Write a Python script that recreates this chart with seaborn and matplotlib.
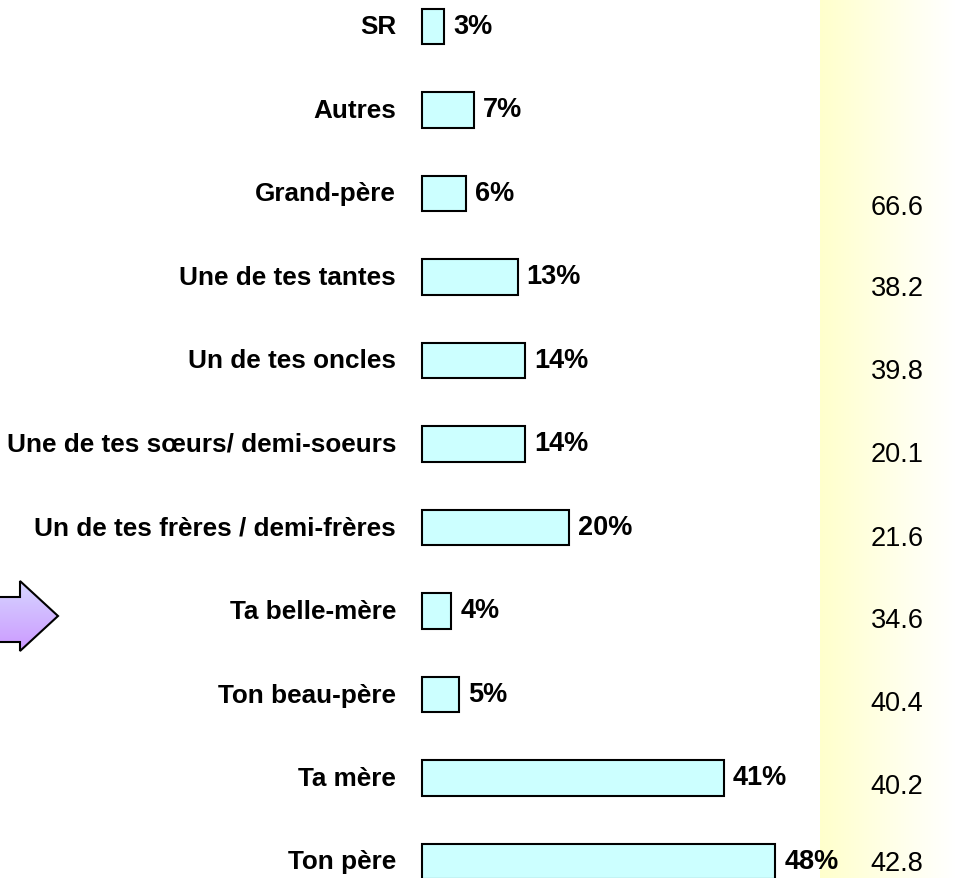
import numpy as np
import pandas as pd
import seaborn as sns
import matplotlib.pyplot as plt
from matplotlib.patches import Polygon
from matplotlib.colors import LinearSegmentedColormap

# Data
categories = ['SR', 'Autres', 'Grand-père', 'Une de tes tantes', 'Un de tes oncles',
              'Une de tes sœurs/ demi-soeurs', 'Un de tes frères / demi-frères',
              'Ta belle-mère', 'Ton beau-père', 'Ta mère', 'Ton père']
percents = [3, 7, 6, 13, 14, 14, 20, 4, 5, 41, 48]
side_values = [None, None, 66.6, 38.2, 39.8, 20.1, 21.6, 34.6, 40.4, 40.2, 42.8]

df = pd.DataFrame({'who': categories, 'pct': percents})

sns.set_theme(style='white')
plt.rcParams['font.family'] = ['Liberation Sans', 'DejaVu Sans']

W, H = 955, 879
fig = plt.figure(figsize=(W / 100, H / 100), dpi=100)
ax = fig.add_axes([0, 0, 1, 1])

# pixel geometry of the original layout
x0, px_per_pct = 422, 7.36
y0, px_per_row = 27.5, 83.5

sns.barplot(data=df, x='pct', y='who', order=categories, orient='h', ax=ax,
            color='#CCFFFF', edgecolor='black', linewidth=1.5, width=0.42,
            saturation=1, zorder=3)
for p in ax.patches:
    p.set_facecolor('#CCFFFF')

ax.set_xlim(-x0 / px_per_pct, (W - x0) / px_per_pct)
ax.set_ylim((H - y0) / px_per_row, -y0 / px_per_row)
ax.axis('off')

# yellow gradient column on the right
band_left = (820 - x0) / px_per_pct
yellow = LinearSegmentedColormap.from_list('yl', ['#FFFFCC', '#FFFFE6', '#FFFFFF'])
grad = np.linspace(0, 1, 256).reshape(1, -1)
ylo, yhi = ax.get_ylim()
ax.imshow(grad, cmap=yellow, aspect='auto', extent=[band_left, ax.get_xlim()[1], ylo, yhi],
          zorder=0)
ax.set_ylim(ylo, yhi)

# vertical nudge of the right-hand numbers (they sit a bit below each bar)
side_shift = [0.16, 0.16, 0.16, 0.13, 0.12, 0.12, 0.12, 0.11, 0.1, 0.09, 0.02]

# labels
for i, (name, v) in enumerate(zip(categories, percents)):
    ax.text(-26 / px_per_pct, i, name, ha='right', va='center', fontsize=18.8,
            fontweight='bold', color='black', zorder=5)
    ax.text(v + 9 / px_per_pct, i - 0.01, f'{v}%', ha='left', va='center', fontsize=19.5,
            fontweight='bold', color='black', zorder=5)
    if side_values[i] is not None:
        ax.text((897 - x0) / px_per_pct, i + side_shift[i], f'{side_values[i]:.1f}',
                ha='center', va='center', fontsize=19.5, color='black', zorder=5)

# purple arrow pointing at "Ta belle-mère"
deco = fig.add_axes([0, 0, 1, 1], zorder=-1)
deco.set_xlim(0, W)
deco.set_ylim(H, 0)
deco.axis('off')
arrow_pts = [(-2, 598), (20, 598), (20, 582), (58, 617), (20, 652), (20, 643), (-2, 643)]
arrow = Polygon(arrow_pts, closed=True, facecolor='none', edgecolor='black', linewidth=1.5,
                zorder=3)
deco.add_patch(arrow)
purple = LinearSegmentedColormap.from_list('pu', ['#D6D6FF', '#CC99FF'])
vgrad = np.linspace(0, 1, 256).reshape(-1, 1)
img = deco.imshow(vgrad, cmap=purple, aspect='auto', extent=[-2, 60, 652, 582], zorder=2)
img.set_clip_path(arrow)
deco.set_xlim(0, W)
deco.set_ylim(H, 0)

fig.savefig('out.png', dpi=100)
